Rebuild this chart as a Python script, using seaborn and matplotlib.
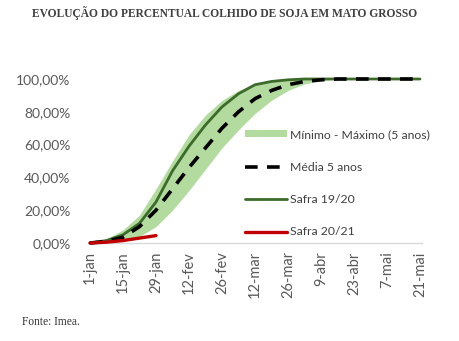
import matplotlib
matplotlib.use("Agg")
import matplotlib.pyplot as plt
import seaborn as sns
import pandas as pd
import numpy as np
from matplotlib.patches import Patch
from matplotlib.lines import Line2D

# Weekly observations, days since 1-jan
days = [0, 7, 14, 21, 28, 35, 42, 49, 56, 63, 70, 77, 84, 91, 98, 105, 112, 119, 126, 133, 140]
minimo = [0, 0, 1, 4, 10, 20, 32, 45, 58, 69, 79, 87, 93, 97, 99, 100, 100, 100, 100, 100, 100]
maximo = [0, 2.5, 8, 17, 33, 50, 66, 78, 87, 93, 97, 99, 100, 100, 100, 100, 100, 100, 100, 100, 100]
media = [0, 1, 3.5, 10, 20, 33, 46, 58, 70, 80, 88, 93, 96.5, 98.5, 99.5, 100, 100, 100, 100, 100, 100]
safra_1920 = [0, 1.5, 5, 12, 25, 44, 59, 72, 83, 91, 96.5, 98.5, 99.5, 100, 100, 100, 100, 100, 100, 100, 100]
days_2021 = [0, 7, 14, 21, 28]
safra_2021 = [0, 0.5, 1.5, 3, 4.5]

tick_days = [0, 14, 28, 42, 56, 70, 84, 98, 112, 126, 140]
tick_labels = ["1-jan", "15-jan", "29-jan", "12-fev", "26-fev", "12-mar",
               "26-mar", "9-abr", "23-abr", "7-mai", "21-mai"]
y_ticks = [0, 20, 40, 60, 80, 100]
y_labels = ["0,00%", "20,00%", "40,00%", "60,00%", "80,00%", "100,00%"]

title = "EVOLUÇÃO DO PERCENTUAL COLHIDO DE SOJA EM MATO GROSSO"
source = "Fonte: Imea."

sns.set_theme(style="white")
plt.rcParams['font.family'] = ['Lato', 'DejaVu Sans']

fig = plt.figure(figsize=(4.59, 3.41), dpi=100)
ax = fig.add_axes([90/459, 98/341, 330/459, 164/341])

band_color = "#b3dba0"
green = "#3d6b2c"
red = "#c00000"

ax.fill_between(days, minimo, maximo, color=band_color, lw=0, zorder=1)

df_media = pd.DataFrame({"day": days, "pct": media})
df_1920 = pd.DataFrame({"day": days, "pct": safra_1920})
df_2021 = pd.DataFrame({"day": days_2021, "pct": safra_2021})

sns.lineplot(data=df_1920, x="day", y="pct", ax=ax, color=green, lw=2.0, zorder=3)
sns.lineplot(data=df_media, x="day", y="pct", ax=ax, color="black", lw=2.6,
             dashes=False, zorder=4)
ax.lines[-1].set_dashes([3.5, 2.6])
sns.lineplot(data=df_2021, x="day", y="pct", ax=ax, color=red, lw=2.4, zorder=5)
for ln in ax.lines:
    ln.set_clip_on(False)

ax.set_xlim(0, 140)
ax.set_ylim(0, 100)
ax.set_xticks(tick_days)
ax.set_xticklabels(tick_labels, rotation=90, fontsize=10.5, color="#595959")
ax.set_yticks(y_ticks)
ax.set_yticklabels(y_labels, fontsize=10, color="#595959")
ax.tick_params(axis="y", length=0, pad=14)
ax.tick_params(axis="x", length=0, pad=6)
ax.set_xlabel("")
ax.set_ylabel("")
for s in ["top", "right", "left"]:
    ax.spines[s].set_visible(False)
ax.spines["bottom"].set_color("#d9d9d9")
ax.spines["bottom"].set_linewidth(1)
ax.spines["bottom"].set_bounds(-1, 141)
ax.grid(False)

handles = [
    Patch(facecolor=band_color, edgecolor="none"),
    Line2D([], [], color="black", lw=2.6, dashes=[3.5, 2.6]),
    Line2D([], [], color=green, lw=2.0),
    Line2D([], [], color=red, lw=2.4),
]
labels = ["Mínimo - Máximo (5 anos)", "Média 5 anos", "Safra 19/20", "Safra 20/21"]
leg = ax.legend(handles, labels, loc="upper left", bbox_to_anchor=(0.455, 0.723),
                frameon=False, fontsize=8.8, handlelength=3.4, handleheight=0.5,
                handletextpad=0.3, labelspacing=1.75, borderaxespad=0)
for t in leg.get_texts():
    t.set_color("#404040")

fig.text(32/459, 1 - 13/341, title, fontsize=8.3, fontweight="bold",
         family="Liberation Serif", color="#404040", va="center", ha="left")
fig.text(22/459, 1 - 322/341, source, fontsize=8.3, family="Liberation Serif",
         color="#333333", va="center", ha="left")

fig.savefig("out.png", dpi=100)
